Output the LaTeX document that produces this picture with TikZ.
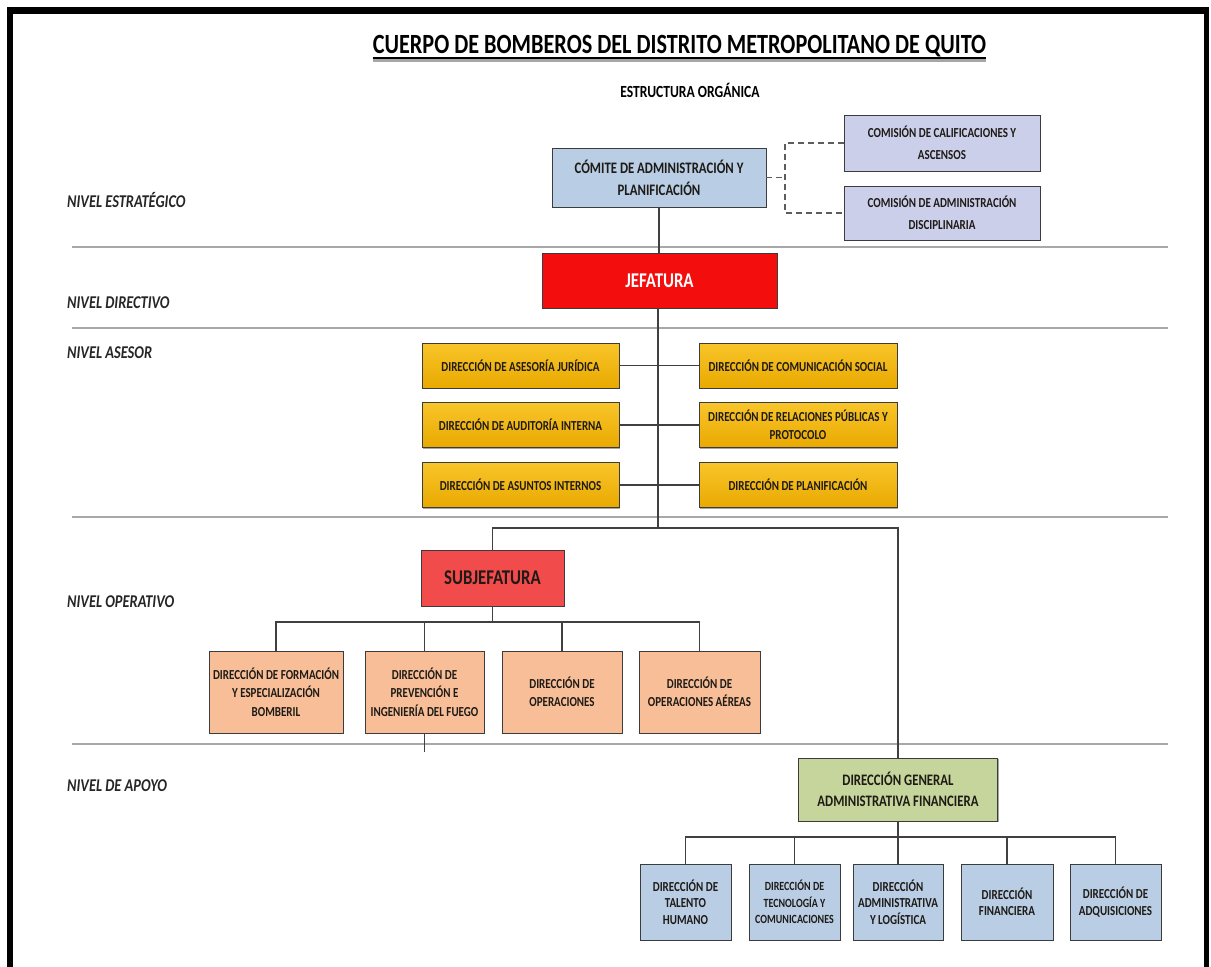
\documentclass[tikz,border=0pt]{standalone}
\usepackage{fontspec}
\setmainfont{Carlito}[FakeStretch=0.8]
\usetikzlibrary{shadows}
\definecolor{edge}{HTML}{3C3C3C}
\definecolor{txt}{HTML}{1E1A16}
\definecolor{linec}{HTML}{404040}
\definecolor{levc}{HTML}{A8A8A8}
\definecolor{cblue}{HTML}{B9CDE5}
\definecolor{clav}{HTML}{CBCFEA}
\definecolor{jred}{HTML}{F40D0D}
\definecolor{sred}{HTML}{F24B4B}
\definecolor{goldA}{HTML}{F8C52A}
\definecolor{goldB}{HTML}{E9A900}
\definecolor{peach}{HTML}{F7BE97}
\definecolor{olivec}{HTML}{C5D59B}
\definecolor{lblue}{HTML}{B9CDE5}
\begin{document}
\begin{tikzpicture}[x=1pt,y=-1pt,
  orgbox/.style={draw=edge, line width=0.9pt, align=center, inner sep=1pt, text=txt,
    font=\bfseries\fontsize{13.75}{17}\selectfont,
    drop shadow={shadow xshift=1.3pt, shadow yshift=-1.3pt, fill=black, opacity=0.35}},
  sz/.style 2 args={minimum width=#1pt, minimum height=#2pt},
  comitebox/.style={orgbox, fill=cblue, font=\bfseries\fontsize{16}{22}\selectfont},
  comisionbox/.style={orgbox, fill=clav, font=\bfseries\fontsize{13.75}{22}\selectfont},
  jefbox/.style={orgbox, fill=jred, text=white, font=\bfseries\fontsize{21}{24}\selectfont},
  subbox/.style={orgbox, fill=sred, font=\bfseries\fontsize{21}{24}\selectfont},
  asesorbox/.style={orgbox, top color=goldA, bottom color=goldB, font=\bfseries\fontsize{13.75}{18}\selectfont},
  operbox/.style={orgbox, fill=peach, font=\bfseries\fontsize{13.75}{18.5}\selectfont},
  dgafbox/.style={orgbox, fill=olivec, font=\bfseries\fontsize{16}{21}\selectfont},
  apoyobox/.style={orgbox, fill=lblue, font=\bfseries\fontsize{13.75}{16.5}\selectfont},
  link/.style={draw=linec, line width=1.3pt},
  dlink/.style={draw=linec!85, line width=1.4pt, dash pattern=on 6pt off 4pt},
  levelline/.style={draw=levc, line width=2pt},
  lvl/.style={font=\bfseries\itshape\fontsize{18}{20}\selectfont, anchor=west, text=black!85, inner sep=0pt}
]
\useasboundingbox (0,0) rectangle (1211,967);
\fill[white] (0,0) rectangle (1211,967);
% frame
\fill[black] (7,7) rectangle (1209,14);
\fill[black] (7,7) rectangle (13,967);
\fill[black] (1204,7) rectangle (1209,967);

% titles
\node[font=\fontsize{27.8}{30}\selectfont\bfseries, inner sep=0pt, anchor=base] (title) at (679.5,53) {CUERPO DE BOMBEROS DEL DISTRITO METROPOLITANO DE QUITO};
\draw[line width=2.2pt, black!35] ([yshift=-7.5pt]title.base west) -- ([yshift=-7.5pt]title.base east);
\draw[line width=1.8pt, black] ([yshift=-5pt]title.base west) -- ([yshift=-5pt]title.base east);
\node[font=\fontsize{17}{20}\selectfont\bfseries, inner sep=0pt] (subtitle) at (690,90) {ESTRUCTURA ORGÁNICA};

% level lines
\coordinate (L1a) at (72,247); \coordinate (L1b) at (1168,247);
\coordinate (L2a) at (72,328); \coordinate (L2b) at (1168,328);
\coordinate (L3a) at (72,517); \coordinate (L3b) at (1168,517);
\coordinate (L4a) at (72,744); \coordinate (L4b) at (1168,744);
\draw[levelline] (L1a) -- (L1b);
\draw[levelline] (L2a) -- (L2b);
\draw[levelline] (L3a) -- (L3b);
\draw[levelline] (L4a) -- (L4b);

% level labels
\node[lvl] (n1) at (67,200) {NIVEL ESTRATÉGICO};
\node[lvl] (n2) at (67,303) {NIVEL DIRECTIVO};
\node[lvl] (n3) at (67,353) {NIVEL ASESOR};
\node[lvl] (n4) at (67,602) {NIVEL OPERATIVO};
\node[lvl] (n5) at (67,786) {NIVEL DE APOYO};

% strategic
\node[comitebox, sz={214}{59}] (comite) at (659,177.5) {CÓMITE DE ADMINISTRACIÓN Y\\PLANIFICACIÓN};
\node[comisionbox, sz={196}{56}] (com1) at (942,143) {COMISIÓN DE CALIFICACIONES Y\\ASCENSOS};
\node[comisionbox, sz={196}{54}] (com2) at (942,213) {COMISIÓN DE ADMINISTRACIÓN\\DISCIPLINARIA};
\coordinate (dj) at (785,177.5);
\draw[dlink] (comite.east) -- (dj);
\draw[dlink] (com1.west) -| (dj) |- (com2.west);

% directive
\node[jefbox, sz={235}{55}] (jef) at (659.5,280.5) {JEFATURA};
\draw[link] (comite.south) -- (comite.south |- jef.north);

% asesor
\node[asesorbox, sz={197}{45}] (a1) at (520.5,365.5) {DIRECCIÓN DE ASESORÍA JURÍDICA};
\node[asesorbox, sz={197}{45}] (a2) at (520.5,425) {DIRECCIÓN DE AUDITORÍA INTERNA};
\node[asesorbox, sz={197}{45}] (a3) at (520.5,485) {DIRECCIÓN DE ASUNTOS INTERNOS};
\node[asesorbox, sz={198}{45}] (b1) at (798,365.5) {DIRECCIÓN DE COMUNICACIÓN SOCIAL};
\node[asesorbox, sz={198}{45}] (b2) at (798,425) {DIRECCIÓN DE RELACIONES PÚBLICAS Y\\PROTOCOLO};
\node[asesorbox, sz={198}{45}] (b3) at (798,485) {DIRECCIÓN DE PLANIFICACIÓN};
\draw[link] (a1.east) -- (b1.west);
\draw[link] (a2.east) -- (b2.west);
\draw[link] (a3.east) -- (b3.west);

% operativo
\coordinate (j1) at (658,528);
\draw[link] (jef.south -| j1) -- (j1);
\node[subbox, sz={143}{56}] (sub) at (492.5,578) {SUBJEFATURA};
\node[dgafbox, sz={199}{63}] (dgaf) at (898,789.5) {DIRECCIÓN GENERAL\\ADMINISTRATIVA FINANCIERA};
\draw[link] (sub.north) |- (j1) -| (dgaf.north);

\node[operbox, sz={134}{82}] (o1) at (276,692) {DIRECCIÓN DE FORMACIÓN\\Y ESPECIALIZACIÓN\\BOMBERIL};
\node[operbox, sz={119}{82}] (o2) at (424.5,692) {DIRECCIÓN DE\\PREVENCIÓN E\\INGENIERÍA DEL FUEGO};
\node[operbox, sz={120}{82}] (o3) at (562,692) {DIRECCIÓN DE\\OPERACIONES};
\node[operbox, sz={121}{82}] (o4) at (699.5,692) {DIRECCIÓN DE\\OPERACIONES AÉREAS};
\coordinate (ob) at (492.5,622);
\draw[link] (sub.south) -- (ob);
\draw[link] (o1.north) |- (ob) -| (o4.north);
\draw[link] (o2.north) -- (o2.north |- ob);
\draw[link] (o3.north) -- (o3.north |- ob);
\coordinate (tick) at (424.5,752);
\draw[link] (o2.south) -- (tick);

% apoyo
\node[apoyobox, sz={91}{76}] (p1) at (685.5,902) {DIRECCIÓN DE\\TALENTO\\HUMANO};
\node[apoyobox, sz={91}{76}, font=\bfseries\fontsize{12.5}{16.5}\selectfont] (p2) at (794.5,902) {DIRECCIÓN DE\\TECNOLOGÍA Y\\COMUNICACIONES};
\node[apoyobox, sz={90}{76}] (p3) at (898,902) {DIRECCIÓN\\ADMINISTRATIVA\\Y LOGÍSTICA};
\node[apoyobox, sz={92}{76}] (p4) at (1007,902) {DIRECCIÓN\\FINANCIERA};
\node[apoyobox, sz={91}{76}] (p5) at (1115.5,902) {DIRECCIÓN DE\\ADQUISICIONES};
\coordinate (pb) at (898,837);
\draw[link] (dgaf.south) -- (pb);
\draw[link] (p1.north) |- (pb) -| (p5.north);
\draw[link] (p2.north) -- (p2.north |- pb);
\draw[link] (p3.north) -- (p3.north |- pb);
\draw[link] (p4.north) -- (p4.north |- pb);
\end{tikzpicture}
\end{document}
